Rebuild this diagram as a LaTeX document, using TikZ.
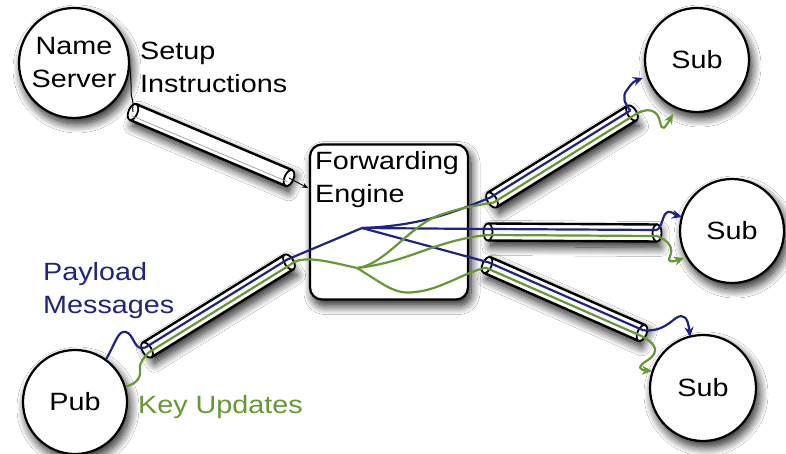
\documentclass[tikz,border=0pt]{standalone}
\usepackage{fontspec}
\setmainfont{Liberation Sans}[FakeStretch=1.15]
\usetikzlibrary{calc,arrows.meta,shadows.blur}

\definecolor{flowblue}{RGB}{32,36,128}
\definecolor{flowgreen}{RGB}{104,152,52}

\tikzset{
  softshadow/.style={blur shadow={shadow xshift=3pt, shadow yshift=-6pt,
      shadow blur radius=9pt, shadow blur steps=14, shadow opacity=90}},
  party/.style={circle, draw=black, fill=white, line width=2.2pt, inner sep=0pt,
      align=center, font=\fontsize{25pt}{33pt}\selectfont, softshadow},
  enginebox/.style={draw=black, fill=white, line width=2.2pt, rounded corners=12pt,
      minimum width=158pt, minimum height=155pt, softshadow},
  pipebody/.style={fill=white, draw=black, line width=2.4pt, line join=round, softshadow},
  pipeend/.style={fill=white, draw=black, line width=1.8pt},
  bflow/.style={draw=flowblue, line width=2.2pt},
  gflow/.style={draw=flowgreen, line width=2.2pt},
  flowtip/.style={-{Stealth[length=10pt,width=9pt]}},
  caption/.style={anchor=base west, inner sep=0pt, align=left,
      font=\fontsize{25pt}{33pt}\selectfont},
}

% a tube from #1 to #2 with an elliptic rim at both ends
\newcommand\pipe[2]{%
  \path[pipebody] ($(#1)!8.5pt!90:(#2)$) -- ($(#2)!8.5pt!-90:(#1)$)
     -- ($(#2)!8.5pt!90:(#1)$) -- ($(#1)!8.5pt!-90:(#2)$) -- cycle;
  \path[pipeend] let \p1=($(#2)-(#1)$), \n1={atan2(\y1,\x1)} in
     (#1) circle [x radius=4.5pt, y radius=8.5pt, rotate=\n1]
     (#2) circle [x radius=4.5pt, y radius=8.5pt, rotate=\n1];
}

\begin{document}
\begin{tikzpicture}[x=1pt, y=-1pt]
  \useasboundingbox[fill=white] (0,0) rectangle (786,454);

  % tube end points
  \coordinate (nA) at (133,112);  \coordinate (nB) at (289,178);
  \coordinate (pA) at (147,350);  \coordinate (pB) at (289,262);
  \coordinate (tA) at (492,200);  \coordinate (tB) at (632,113);
  \coordinate (mA) at (488,232);  \coordinate (mB) at (657,233);
  \coordinate (lA) at (487,265);  \coordinate (lB) at (642,333);

  % engine
  \node[enginebox] (fe) at (389,222) {};
  \node[caption] (felabel) at (315,203) {Forwarding\\Engine};

  % end points
  \node[party, minimum size=110pt] (ns) at (74,63) {Name\\Server};
  \node[party, minimum size=104pt] (pub) at (75,402) {Pub};
  \node[party, minimum size=104pt] (subT) at (697,60) {Sub};
  \node[party, minimum size=104pt] (subM) at (732,231) {Sub};
  \node[party, minimum size=106pt] (subL) at (703,388) {Sub};

  % tubes
  \pipe{nA}{nB}
  \pipe{pA}{pB}
  \pipe{tA}{tB}
  \pipe{mA}{mB}
  \pipe{lA}{lB}
  \draw[gray!70, line width=0.8pt] ($(nA)!4pt!-90:(nB)$) -- ($(nB)!4pt!90:(nA)$);

  % lanes inside the tubes
  \foreach \a/\b in {p/pB, t/tB, m/mB, l/lB}{
    \coordinate (b\a A) at ($(\a A)!3pt!90:(\b)$);
    \coordinate (g\a A) at ($(\a A)!3pt!-90:(\b)$);
  }
  \foreach \a/\b in {p/pA, t/tA, m/mA, l/lA}{
    \coordinate (b\a B) at ($(\a B)!3pt!-90:(\b)$);
    \coordinate (g\a B) at ($(\a B)!3pt!90:(\b)$);
  }
  \coordinate (bhub) at (362,228);
  \coordinate (ghub) at (357,268);

  % setup instructions
  \draw[line width=1pt] (ns.18) .. controls (133,86) and (130,93) .. (132,98)
      .. controls (134,103) and (132,108) .. (nA);
  \coordinate (feIn) at (308,188);
  \draw[line width=0.9pt, -{Stealth[length=6pt,width=5pt]}] (nB) -- (feIn);

  % payload messages
  \draw[bflow] (pub.54) .. controls (116,342) and (118,330) .. (126,332)
      .. controls (134,334) and (134,352) .. (bpA) -- (bpB) -- (bhub);
  \draw[bflow] (bhub) .. controls (420,226) and (455,212) .. (btA) -- (btB);
  \draw[bflow] (bhub) -- (bmA) -- (bmB);
  \draw[bflow] (bhub) -- (blA) -- (blB);

  % key updates
  \draw[gflow] (pub.17) .. controls (136,384) and (141,378) .. (140,370)
      .. controls (139,362) and (144,358) .. (gpA) -- (gpB);
  \draw[gflow] (gpB) .. controls (302,254) and (330,262) .. (ghub);
  \draw[gflow] (ghub) .. controls (385,265) and (410,225) .. (440,215)
      .. controls (460,208) and (478,205) .. (gtA) -- (gtB);
  \draw[gflow] (ghub) .. controls (410,262) and (435,240) .. (gmA) -- (gmB);
  \draw[gflow] (ghub) .. controls (385,285) and (395,295) .. (415,292)
      .. controls (440,290) and (465,272) .. (glA) -- (glB);

  % delivery to the subscribers
  \coordinate (bT) at (643,78);   \coordinate (gT) at (673,114);
  \coordinate (bM) at (682,217);  \coordinate (gM) at (684,258);
  \coordinate (bL) at (690,337);  \coordinate (gL) at (652,371);
  \draw[bflow, flowtip] (btB) .. controls (624,103) and (622,96) .. (627,90)
      .. controls (630,86) and (632,82) .. (bT);
  \draw[gflow, flowtip] (gtB) .. controls (648,106) and (658,110) .. (660,122)
      .. controls (662,132) and (665,128) .. (gT);
  \draw[bflow, flowtip] (bmB) .. controls (663,226) and (662,214) .. (668,212)
      .. controls (672,211) and (675,215) .. (bM);
  \draw[gflow, flowtip] (gmB) .. controls (668,240) and (674,248) .. (670,256)
      .. controls (667,263) and (672,262) .. (gM);
  \draw[bflow, flowtip] (blB) .. controls (660,332) and (668,324) .. (676,318)
      .. controls (684,313) and (688,318) .. (bL);
  \draw[gflow, flowtip] (glB) .. controls (656,343) and (660,352) .. (648,360)
      .. controls (636,367) and (640,370) .. (gL);

  % captions
  \node[caption] (setup) at (140,93) {Setup\\Instructions};
  \node[caption, text=flowblue] (payload) at (43,313) {Payload\\Messages};
  \node[caption, text=flowgreen] (keys) at (138,413) {Key Updates};
\end{tikzpicture}
\end{document}
